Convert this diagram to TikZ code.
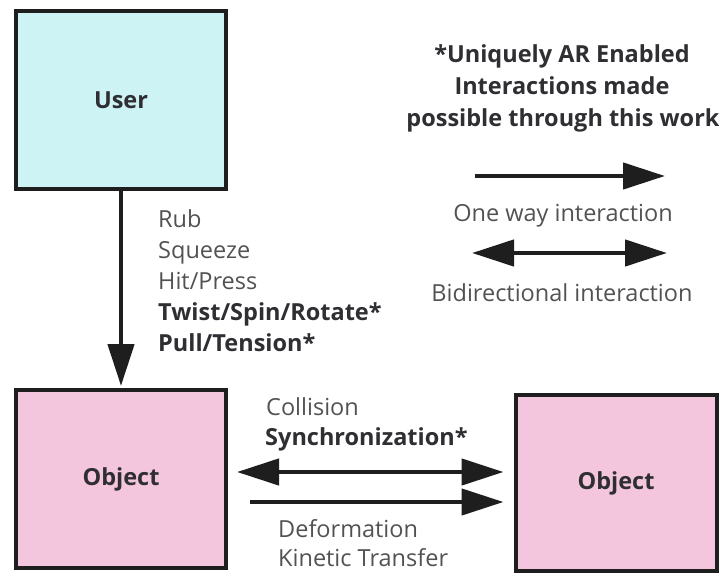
\documentclass[tikz,border=0pt]{standalone}
\usepackage{fontspec}
\setmainfont{Open Sans}
\usetikzlibrary{arrows.meta,calc}
\definecolor{usercyan}{HTML}{CDF3F4}
\definecolor{objpink}{HTML}{F4C6DD}
\definecolor{edgedark}{HTML}{1E1E1E}
\definecolor{labelgray}{HTML}{525252}
\definecolor{labeldark}{HTML}{2E2E33}
\newcommand{\txtsize}{\fontsize{23.5}{31}\selectfont}
\tikzset{
  box/.style={draw=edgedark, line width=4pt, minimum width=#1, inner sep=0pt,
    font=\txtsize\bfseries, text=labeldark},
  lbl/.style={anchor=base west, inner sep=0pt, text=labelgray, font=\txtsize},
  lblb/.style={lbl, text=labeldark, font=\txtsize\bfseries},
  conn/.style={line width=4.5pt, edgedark, -{Triangle[length=42pt,width=26pt]}},
  biconn/.style={line width=4.5pt, edgedark,
    {Triangle[length=42pt,width=26pt]}-{Triangle[length=42pt,width=26pt]}},
}
\begin{document}
\begin{tikzpicture}[x=1pt,y=-1pt]
\useasboundingbox (0,0) rectangle (723,575);

% boxes
\node[box=210pt, minimum height=177pt, fill=usercyan] (user) at (121,100) {User};
\node[box=210pt, minimum height=178pt, fill=objpink] (objA) at (121,479) {Object};
\node[box=201pt, minimum height=176pt, fill=objpink] (objB) at (616,483) {Object};

% user -> object, with its labels
\draw[conn, shorten >=2pt] (user.south) -- (objA.north);
\node[lbl] (rub) at (158,227) {Rub};
\node[lbl] (squeeze) at (158,258) {Squeeze};
\node[lbl] (hit) at (158,289) {Hit/Press};
\node[lblb] (twist) at (158,320) {Twist/Spin/Rotate*};
\node[lblb] (pull) at (158,351) {Pull/Tension*};

% object <-> object, with its labels
\draw[biconn] ([shift={(9,-7)}]objA.east) -- ([shift={(-10,-11)}]objB.west);
\draw[conn] ([shift={(22,23)}]objA.east) -- ([shift={(-10,19)}]objB.west);
\node[lbl] (coll) at (266,415) {Collision};
\node[lblb] (sync) at (265,445) {Synchronization*};
\node[lbl] (deform) at (278,537) {Deformation};
\node[lbl] (kin) at (278,566) {Kinetic Transfer};

% legend
\node[lblb, anchor=base] (t1) at (562,63) {*Uniquely AR Enabled};
\node[lblb, anchor=base] (t2) at (562,95) {Interactions made};
\node[lblb, anchor=base] (t3) at (563,127) {possible through this work};
\coordinate (oneA) at (475,176);
\coordinate (oneB) at (665,176);
\draw[conn] (oneA) -- (oneB);
\node[lbl, anchor=base] (onelbl) at (563,221) {One way interaction};
\coordinate (biA) at (472,253);
\coordinate (biB) at (667,253);
\draw[biconn] (biA) -- (biB);
\node[lbl, anchor=base] (bilbl) at (562,301) {Bidirectional interaction};
\end{tikzpicture}
\end{document}
